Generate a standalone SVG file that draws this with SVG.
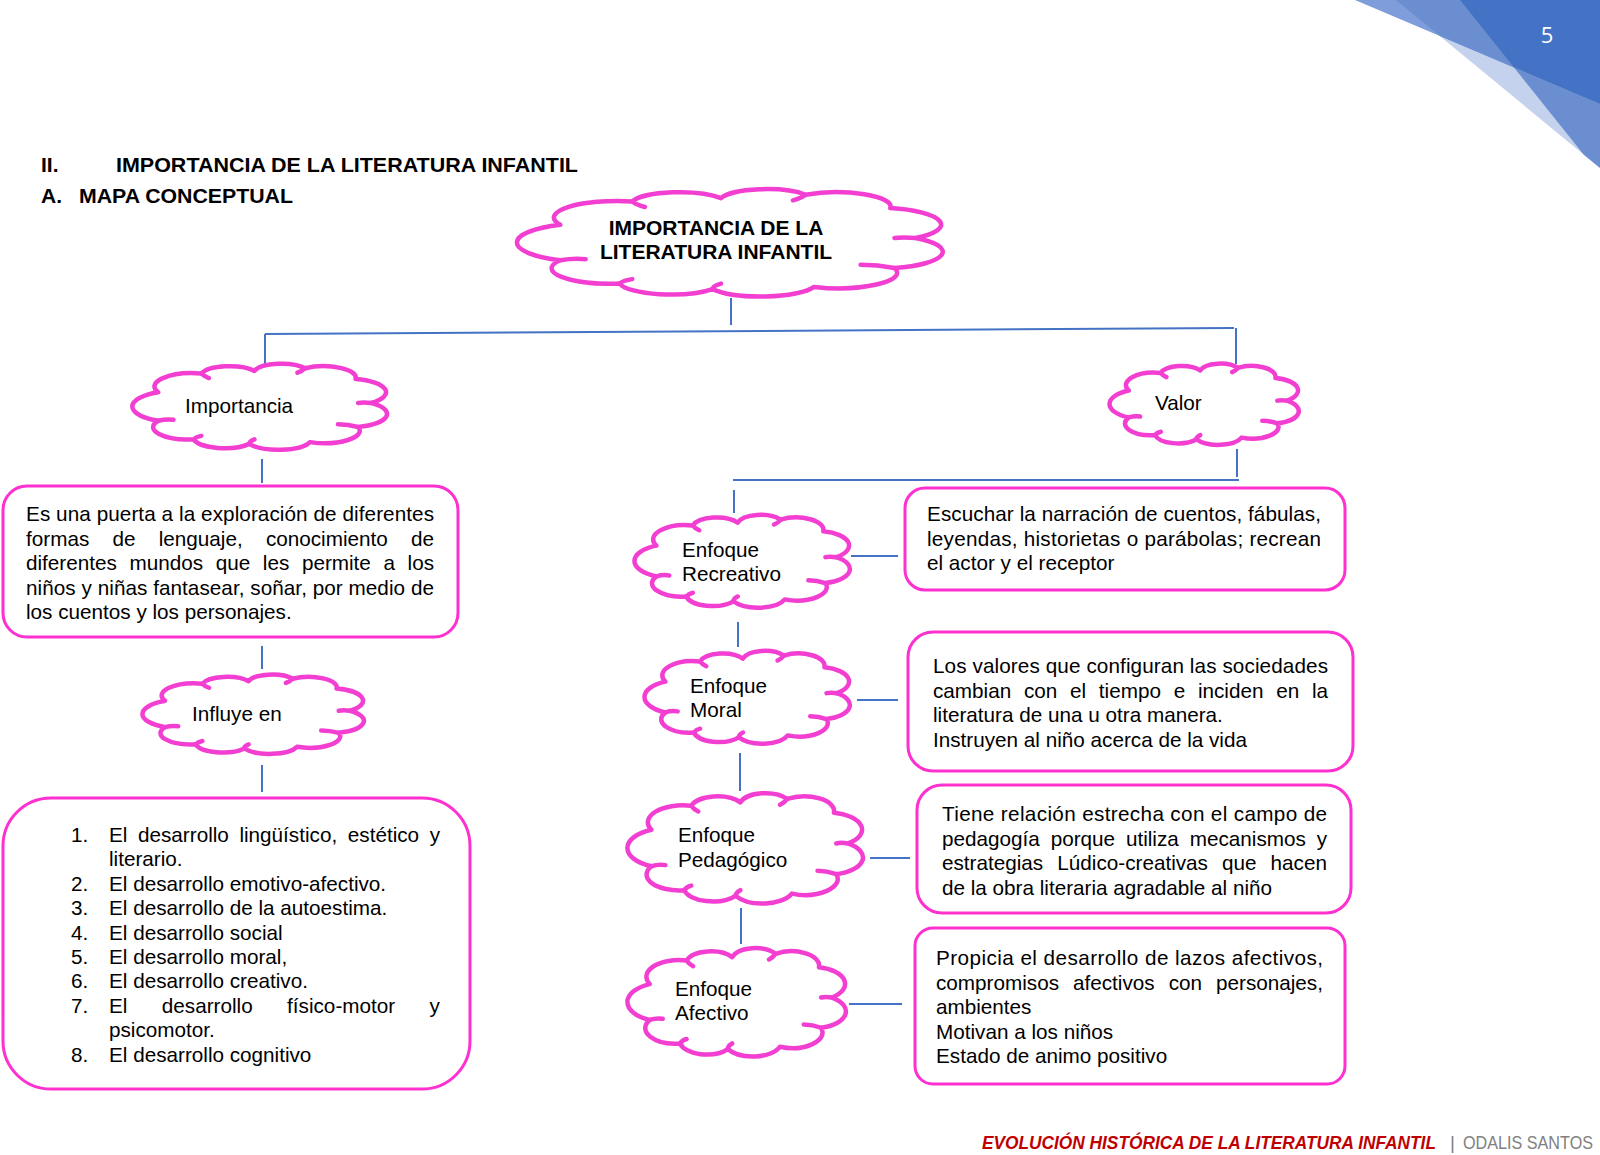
<svg xmlns="http://www.w3.org/2000/svg" xmlns:xlink="http://www.w3.org/1999/xlink" width="1600" height="1155" viewBox="0 0 1600 1155">
<style>
.t{font-family:"Liberation Sans",Arial,sans-serif;font-size:20.7px;fill:#000}
.b{font-weight:bold;font-size:21px}
.cl{fill:#fff;stroke:#f23fd2;stroke-width:4.5;vector-effect:non-scaling-stroke;stroke-linejoin:round}
.hk{fill:none;stroke:#f23fd2;stroke-width:4.5;vector-effect:non-scaling-stroke;stroke-linecap:round}
.bx{fill:#fff;stroke:#ff30d0;stroke-width:3}
.cn{stroke:#4472c4;stroke-width:2;fill:none}
.ft{font-family:"Liberation Sans",Arial,sans-serif;font-size:19px}
</style>
<defs>
<path id="cloud" class="cl" d="M10,66 A17.6,17.6 0 0 1 10,34 A14.9,14.9 0 0 1 27,13 A11.7,11.7 0 0 1 48,10 A11.1,11.1 0 0 1 68,7 A12.8,12.8 0 0 1 88,19 A15.2,15.2 0 0 1 94,46 A15.1,15.1 0 0 1 89,73 A14,14 0 0 1 70,90 A13.3,13.3 0 0 1 46,92 A12.4,12.4 0 0 1 24,87 A13.9,13.9 0 0 1 10,66 Z"/>
<path id="hooks" class="hk" d="M10,66 Q13,64 16,65 M27,13 Q28,16 30,18 M68,7 Q67,10 65,12 M94,46 Q91,45 89,46 M89,73 Q85,70 81,70 M46,92 Q46,89 48,87 M24,87 Q25,84 27,83"/>
</defs>
<rect width="1600" height="1155" fill="#fff"/>
<g id="corner">
<polygon points="1396,0 1600,0 1600,168" fill="#c4d2ed"/>
<polygon points="1355,0 1600,0 1600,104" fill="#7e9dda"/>
<polygon points="1396,0 1460,0 1514,67.5 1440,36" fill="#6a8ed0"/>
<polygon points="1514,67.5 1600,104 1600,168 1583.6,154.5" fill="#6a8ed0"/>
<polygon points="1460,0 1600,0 1600,104 1514,67.5" fill="#4472c4"/>
<text x="1547" y="43" text-anchor="middle" style="font-family:'Open Sans','Liberation Sans',sans-serif;font-size:22px;fill:#fff">5</text>
</g>
<g id="headings">
<text class="t b" x="41" y="172">II.</text>
<text class="t b" x="116" y="172" textLength="462" lengthAdjust="spacingAndGlyphs">IMPORTANCIA DE LA LITERATURA INFANTIL</text>
<text class="t b" x="41" y="203">A.</text>
<text class="t b" x="79" y="203" textLength="214" lengthAdjust="spacingAndGlyphs">MAPA CONCEPTUAL</text>
</g>
<g id="connectors">
<line class="cn" x1="731" y1="298" x2="731" y2="325"/>
<line class="cn" x1="265" y1="334" x2="1234" y2="328"/>
<line class="cn" x1="265" y1="334" x2="265" y2="375"/>
<line class="cn" x1="1236" y1="328" x2="1236" y2="364"/>
<line class="cn" x1="262" y1="459" x2="262" y2="483"/>
<line class="cn" x1="262" y1="646" x2="262" y2="669"/>
<line class="cn" x1="262" y1="765" x2="262" y2="792"/>
<line class="cn" x1="1237" y1="449" x2="1237" y2="477"/>
<line class="cn" x1="733" y1="480" x2="1239" y2="480"/>
<line class="cn" x1="734" y1="490" x2="734" y2="513"/>
<line class="cn" x1="851" y1="556" x2="898" y2="556"/>
<line class="cn" x1="738" y1="622" x2="738" y2="647"/>
<line class="cn" x1="857" y1="700" x2="898" y2="700"/>
<line class="cn" x1="740" y1="753" x2="740" y2="791"/>
<line class="cn" x1="870" y1="858" x2="910" y2="858"/>
<line class="cn" x1="741" y1="908" x2="741" y2="944"/>
<line class="cn" x1="849" y1="1004" x2="902" y2="1004"/>
</g>
<g id="n-main">
<g transform="translate(518,187) scale(4.23,1.11)"><use xlink:href="#cloud"/><use xlink:href="#hooks"/></g>
<text class="t b" x="716" y="235" text-anchor="middle">IMPORTANCIA DE LA</text>
<text class="t b" x="716" y="259" text-anchor="middle">LITERATURA INFANTIL</text>
</g>
<g id="n-importancia">
<g transform="translate(133,362) scale(2.53,0.89)"><use xlink:href="#cloud"/><use xlink:href="#hooks"/></g>
<text class="t" x="185" y="413">Importancia</text>
</g>
<g id="n-box1">
<rect class="bx" x="3" y="486" width="455" height="151" rx="24"/>
<text class="t" x="26" y="521" textLength="408" lengthAdjust="spacing">Es una puerta a la exploración de diferentes</text>
<text class="t" y="545.5"><tspan x="26">formas</tspan><tspan x="112.5">de</tspan><tspan x="158.7">lenguaje,</tspan><tspan x="265.9">conocimiento</tspan><tspan x="411">de</tspan></text>
<text class="t" y="570"><tspan x="26">diferentes</tspan><tspan x="129.5">mundos</tspan><tspan x="215.7">que</tspan><tspan x="262.8">les</tspan><tspan x="301.9">permite</tspan><tspan x="383.5">a</tspan><tspan x="407.6">los</tspan></text>
<text class="t" x="26" y="594.5" textLength="408" lengthAdjust="spacing">niños y niñas fantasear, soñar, por medio de</text>
<text class="t" x="26" y="619">los cuentos y los personajes.</text>
</g>
<g id="n-influye">
<g transform="translate(143,673) scale(2.2,0.82)"><use xlink:href="#cloud"/><use xlink:href="#hooks"/></g>
<text class="t" x="192" y="721">Influye en</text>
</g>
<g id="n-box2">
<rect class="bx" x="3" y="798" width="467" height="291" rx="48"/>
<text class="t" x="71" y="842">1.</text>
<text class="t" y="842"><tspan x="109">El</tspan><tspan x="138">desarrollo</tspan><tspan x="239.4">lingüístico,</tspan><tspan x="347.8">estético</tspan><tspan x="429.7">y</tspan></text>
<text class="t" x="109" y="866.4">literario.</text>
<text class="t" x="71" y="890.8">2.</text><text class="t" x="109" y="890.8">El desarrollo emotivo-afectivo.</text>
<text class="t" x="71" y="915.2">3.</text><text class="t" x="109" y="915.2">El desarrollo de la autoestima.</text>
<text class="t" x="71" y="939.6">4.</text><text class="t" x="109" y="939.6">El desarrollo social</text>
<text class="t" x="71" y="964">5.</text><text class="t" x="109" y="964">El desarrollo moral,</text>
<text class="t" x="71" y="988.4">6.</text><text class="t" x="109" y="988.4">El desarrollo creativo.</text>
<text class="t" x="71" y="1012.8">7.</text>
<text class="t" y="1012.8"><tspan x="109">El</tspan><tspan x="161.8">desarrollo</tspan><tspan x="287.1">físico-motor</tspan><tspan x="429.6">y</tspan></text>
<text class="t" x="109" y="1037.2">psicomotor.</text>
<text class="t" x="71" y="1061.6">8.</text><text class="t" x="109" y="1061.6">El desarrollo cognitivo</text>
</g>
<g id="n-valor">
<g transform="translate(1110,362) scale(1.88,0.84)"><use xlink:href="#cloud"/><use xlink:href="#hooks"/></g>
<text class="t" x="1155" y="410">Valor</text>
</g>
<g id="n-recreativo">
<g transform="translate(635,513) scale(2.14,0.96)"><use xlink:href="#cloud"/><use xlink:href="#hooks"/></g>
<text class="t" x="682" y="557">Enfoque</text>
<text class="t" x="682" y="581">Recreativo</text>
</g>
<g id="n-box-recreativo">
<rect class="bx" x="905" y="488" width="440" height="102" rx="20"/>
<text class="t" x="927" y="521" textLength="394" lengthAdjust="spacing">Escuchar la narración de cuentos, fábulas,</text>
<text class="t" x="927" y="545.5" textLength="394" lengthAdjust="spacing">leyendas, historietas o parábolas; recrean</text>
<text class="t" x="927" y="570">el actor y el receptor</text>
</g>
<g id="n-moral">
<g transform="translate(645,649) scale(2.04,0.96)"><use xlink:href="#cloud"/><use xlink:href="#hooks"/></g>
<text class="t" x="690" y="692.5">Enfoque</text>
<text class="t" x="690" y="717">Moral</text>
</g>
<g id="n-box-moral">
<rect class="bx" x="908" y="632" width="445" height="139" rx="25"/>
<text class="t" x="933" y="673" textLength="395" lengthAdjust="spacing">Los valores que configuran las sociedades</text>
<text class="t" y="697.5"><tspan x="933">cambian</tspan><tspan x="1023.9">con</tspan><tspan x="1070">el</tspan><tspan x="1098.8">tiempo</tspan><tspan x="1173.7">e</tspan><tspan x="1197.9">inciden</tspan><tspan x="1276.2">en</tspan><tspan x="1311.9">la</tspan></text>
<text class="t" x="933" y="722">literatura de una u otra manera.</text>
<text class="t" x="933" y="746.5">Instruyen al niño acerca de la vida</text>
</g>
<g id="n-pedagogico">
<g transform="translate(628,791) scale(2.34,1.14)"><use xlink:href="#cloud"/><use xlink:href="#hooks"/></g>
<text class="t" x="678" y="842">Enfoque</text>
<text class="t" x="678" y="866.5">Pedagógico</text>
</g>
<g id="n-box-pedagogico">
<rect class="bx" x="917" y="785" width="434" height="128" rx="25"/>
<text class="t" x="942" y="821" textLength="385" lengthAdjust="spacing">Tiene relación estrecha con el campo de</text>
<text class="t" y="845.5"><tspan x="942">pedagogía</tspan><tspan x="1050.7">porque</tspan><tspan x="1125.9">utiliza</tspan><tspan x="1189.7">mecanismos</tspan><tspan x="1316.7">y</tspan></text>
<text class="t" y="870"><tspan x="942">estrategias</tspan><tspan x="1057.3">Lúdico-creativas</tspan><tspan x="1222">que</tspan><tspan x="1270.6">hacen</tspan></text>
<text class="t" x="942" y="894.5">de la obra literaria agradable al niño</text>
</g>
<g id="n-afectivo">
<g transform="translate(628,946) scale(2.17,1.12)"><use xlink:href="#cloud"/><use xlink:href="#hooks"/></g>
<text class="t" x="675" y="995.5">Enfoque</text>
<text class="t" x="675" y="1020">Afectivo</text>
</g>
<g id="n-box-afectivo">
<rect class="bx" x="915" y="928" width="430" height="156" rx="18"/>
<text class="t" x="936" y="965" textLength="387" lengthAdjust="spacing">Propicia el desarrollo de lazos afectivos,</text>
<text class="t" y="989.5"><tspan x="936">compromisos</tspan><tspan x="1073">afectivos</tspan><tspan x="1168.7">con</tspan><tspan x="1216">personajes,</tspan></text>
<text class="t" x="936" y="1014">ambientes</text>
<text class="t" x="936" y="1038.5">Motivan a los niños</text>
<text class="t" x="936" y="1063">Estado de animo positivo</text>
</g>
<g id="footer">
<text class="ft" x="982" y="1149" textLength="454" lengthAdjust="spacingAndGlyphs" style="font-weight:bold;font-style:italic;fill:#c00000">EVOLUCIÓN HISTÓRICA DE LA LITERATURA INFANTIL</text>
<text class="ft" x="1450" y="1149" style="fill:#7f7f7f">|</text>
<text class="ft" x="1463" y="1149" textLength="130" lengthAdjust="spacingAndGlyphs" style="fill:#808080">ODALIS SANTOS</text>
</g>
</svg>
